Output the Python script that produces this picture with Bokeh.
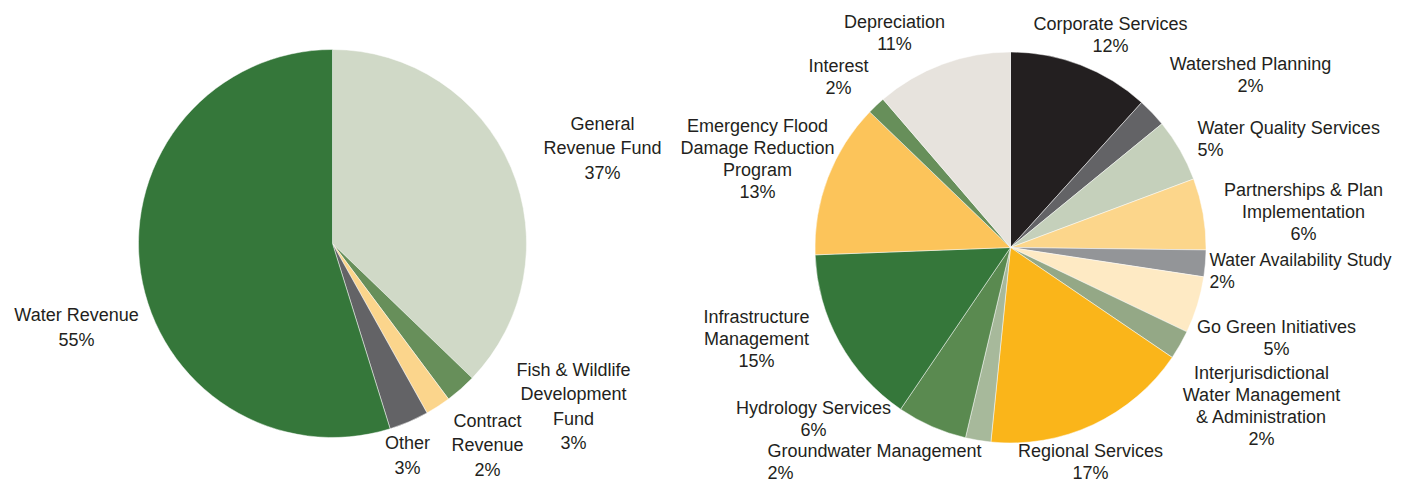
import numpy as np
from bokeh.plotting import figure
from bokeh.models import Range1d, ColumnDataSource
from bokeh.core.properties import value
from bokeh.embed import file_html
from bokeh.resources import INLINE

# ---------------- data ----------------
rev_names = ["General\nRevenue Fund", "Fish & Wildlife\nDevelopment\nFund",
             "Contract\nRevenue", "Other", "Water Revenue"]
rev_values = [37.2, 2.6, 2.1, 3.3, 54.8]
rev_colors = ["#d0d9c7", "#678f5a", "#fbd58c", "#636366", "#35773a"]

exp_names = ["Corporate Services", "Watershed Planning", "Water Quality Services",
             "Partnerships & Plan\nImplementation", "Water Availability Study",
             "Go Green Initiatives",
             "Interjurisdictional\nWater Management\n& Administration",
             "Regional Services", "Groundwater Management", "Hydrology Services",
             "Infrastructure\nManagement", "Emergency Flood\nDamage Reduction\nProgram",
             "Interest", "Depreciation"]
exp_values = [11.7, 2.4, 5.2, 5.9, 2.2, 4.7, 2.4, 17.1, 2.1, 5.8, 14.9, 12.8, 1.5, 11.3]
exp_colors = ["#231f20", "#636366", "#c5d0bb", "#fcd68b", "#939598", "#feeac4",
              "#94a886", "#fab51a", "#a7b99b", "#5a8a50", "#35773a", "#fcc45a",
              "#678f5a", "#e7e3dd"]

# ---------------- layout (screen pixels) ----------------
W, H = 1415, 497
FONT = "Liberation Sans"

rev_center = (332, 243)
rev_radius = 194
# (x, y, align, font size)
rev_label_pos = [(602, 148, "center", 18), (573, 406, "center", 18),
                 (487, 445, "center", 18), (407, 455, "center", 18),
                 (76, 327, "center", 18)]

exp_center = (1010, 247)
exp_radius = 195.5
exp_label_pos = [(1110, 34, "center", 18), (1250, 74, "center", 18),
                 (1197, 138, "left", 18), (1303, 211, "center", 18),
                 (1209, 270, "left", 17.5), (1276, 337, "center", 18),
                 (1261, 405, "center", 18), (1090, 461, "center", 18),
                 (767, 461, "left", 18), (813, 418, "center", 18),
                 (756, 338, "center", 18), (757, 158, "center", 18),
                 (838, 76, "center", 18), (894, 32, "center", 18)]


def Y(sy):
    return H - sy


p = figure(width=W - 16, height=H - 16, output_backend="svg", toolbar_location=None,
           x_range=Range1d(0, W - 16), y_range=Range1d(16, H), min_border=0)
p.axis.visible = False
p.grid.visible = False
p.outline_line_color = None
p.background_fill_color = "white"
p.border_fill_color = "white"


def draw_pie(names, values, colors, center, radius, label_pos, line_height):
    vals = np.array(values, dtype=float)
    frac = vals / vals.sum()
    cum = np.concatenate([[0], np.cumsum(frac)])
    start = np.pi / 2 - 2 * np.pi * cum[1:]
    end = np.pi / 2 - 2 * np.pi * cum[:-1]
    src = ColumnDataSource(dict(x=[center[0]] * len(vals), y=[Y(center[1])] * len(vals),
                                start=start, end=end, color=colors))
    p.wedge(x="x", y="y", radius=radius, start_angle="start", end_angle="end",
            fill_color="color", line_color="white", line_width=0.6, line_alpha=0.8,
            source=src)
    texts = [f"{n}\n{int(v + 0.5)}%" for n, v in zip(names, values)]
    for t, (lx, ly, al, fs) in zip(texts, label_pos):
        p.text(x=[lx], y=[Y(ly)], text=[t], text_align=al, text_baseline="middle",
               text_font=value(FONT), text_font_size=f"{fs}px", text_color="#231f20",
               text_line_height=line_height)


draw_pie(rev_names, rev_values, rev_colors, rev_center, rev_radius, rev_label_pos, 1.22)
draw_pie(exp_names, exp_values, exp_colors, exp_center, exp_radius, exp_label_pos, 1.1)

open("out.html", "w").write(file_html(p, INLINE))
